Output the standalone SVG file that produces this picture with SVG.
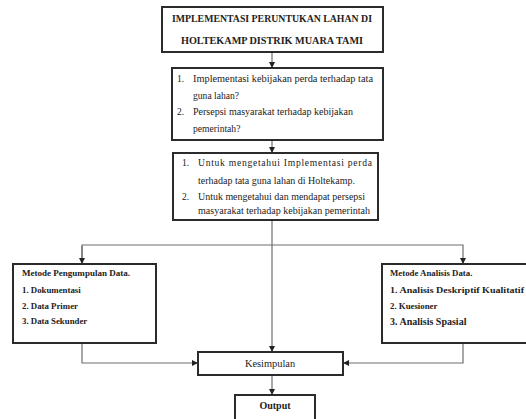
<svg xmlns="http://www.w3.org/2000/svg" width="526" height="419" viewBox="0 0 526 419">
<defs>
<style>
.box{fill:#fff;stroke:#2b2b2b;stroke-width:2}
.con{fill:none;stroke:#6e6e6e;stroke-width:1.2}
text{font-family:"Liberation Serif","Times New Roman",serif;fill:#222}
.b{font-weight:bold}
.t{font-size:9.6px}
.s{font-size:8.8px}
</style>
<marker id="ah" markerWidth="6" markerHeight="6" refX="5" refY="3" orient="auto" markerUnits="userSpaceOnUse">
<path d="M0,0 L6,3 L0,6 Z" fill="#222"/>
</marker>
</defs>
<rect width="526" height="419" fill="#fff"/>
<g id="connectors">
<line class="con" x1="272" y1="53" x2="272" y2="67" marker-end="url(#ah)"/>
<line class="con" x1="272" y1="141" x2="272" y2="152" marker-end="url(#ah)"/>
<line class="con" x1="272" y1="221" x2="272" y2="351" marker-end="url(#ah)"/>
<polyline class="con" points="82,263 82,245 463,245 463,263" marker-end="url(#ah)"/>
<line class="con" x1="82" y1="246" x2="82" y2="263" marker-end="url(#ah)"/>
<polyline class="con" points="82,344 82,363 197,363" marker-end="url(#ah)"/>
<polyline class="con" points="463,344 463,363 344,363" marker-end="url(#ah)"/>
<line class="con" x1="272" y1="376" x2="272" y2="394" marker-end="url(#ah)"/>
</g>
<g id="title">
<rect class="box" x="162" y="7" width="221" height="45"/>
<text class="b" x="272" y="22" font-size="9.6" text-anchor="middle" textLength="200" lengthAdjust="spacingAndGlyphs">IMPLEMENTASI PERUNTUKAN LAHAN DI</text>
<text class="b" x="272" y="44" font-size="9.6" text-anchor="middle" textLength="182" lengthAdjust="spacingAndGlyphs">HOLTEKAMP DISTRIK MUARA TAMI</text>
</g>
<g id="rumusan">
<rect class="box" x="172" y="68" width="211" height="72"/>
<text class="t" x="177" y="82">1.</text>
<text class="t" x="193" y="82" textLength="180" lengthAdjust="spacingAndGlyphs">Implementasi kebijakan perda terhadap tata</text>
<text class="t" x="193" y="99">guna lahan?</text>
<text class="t" x="177" y="115">2.</text>
<text class="t" x="193" y="115" textLength="160" lengthAdjust="spacingAndGlyphs">Persepsi masyarakat terhadap kebijakan</text>
<text class="t" x="193" y="132">pemerintah?</text>
</g>
<g id="tujuan">
<rect class="box" x="173" y="153" width="205" height="67"/>
<text class="t" x="182" y="166">1.</text>
<text class="t" x="198" y="166" textLength="174" lengthAdjust="spacing">Untuk mengetahui Implementasi perda</text>
<text class="t" x="198" y="184" textLength="157" lengthAdjust="spacingAndGlyphs">terhadap tata guna lahan di Holtekamp.</text>
<text class="t" x="182" y="200">2.</text>
<text class="t" x="198" y="200" textLength="167" lengthAdjust="spacingAndGlyphs">Untuk mengetahui dan mendapat persepsi</text>
<text class="t" x="198" y="214" textLength="172" lengthAdjust="spacingAndGlyphs">masyarakat terhadap kebijakan pemerintah</text>
</g>
<g id="pengumpulan">
<rect class="box" x="13" y="264" width="143" height="79"/>
<text class="b s" x="22" y="276" textLength="108" lengthAdjust="spacingAndGlyphs">Metode Pengumpulan Data.</text>
<text class="b s" x="22" y="293">1. Dokumentasi</text>
<text class="b s" x="22" y="309">2. Data Primer</text>
<text class="b s" x="22" y="324">3. Data Sekunder</text>
</g>
<g id="analisis">
<rect class="box" x="382" y="264" width="150" height="79"/>
<text class="b s" x="390" y="276">Metode Analisis Data.</text>
<text class="b s" x="390" y="293" textLength="134" lengthAdjust="spacingAndGlyphs">1. Analisis Deskriptif Kualitatif</text>
<text class="b s" x="390" y="309">2. Kuesioner</text>
<text class="b" x="390" y="325" font-size="10">3. Analisis Spasial</text>
</g>
<g id="kesimpulan">
<rect class="box" x="198" y="352" width="145" height="23"/>
<text x="270" y="367" font-size="10.4" text-anchor="middle">Kesimpulan</text>
</g>
<g id="output">
<rect class="box" x="235" y="395" width="80" height="30"/>
<text class="b" x="275" y="409" font-size="10" text-anchor="middle">Output</text>
</g>
</svg>
